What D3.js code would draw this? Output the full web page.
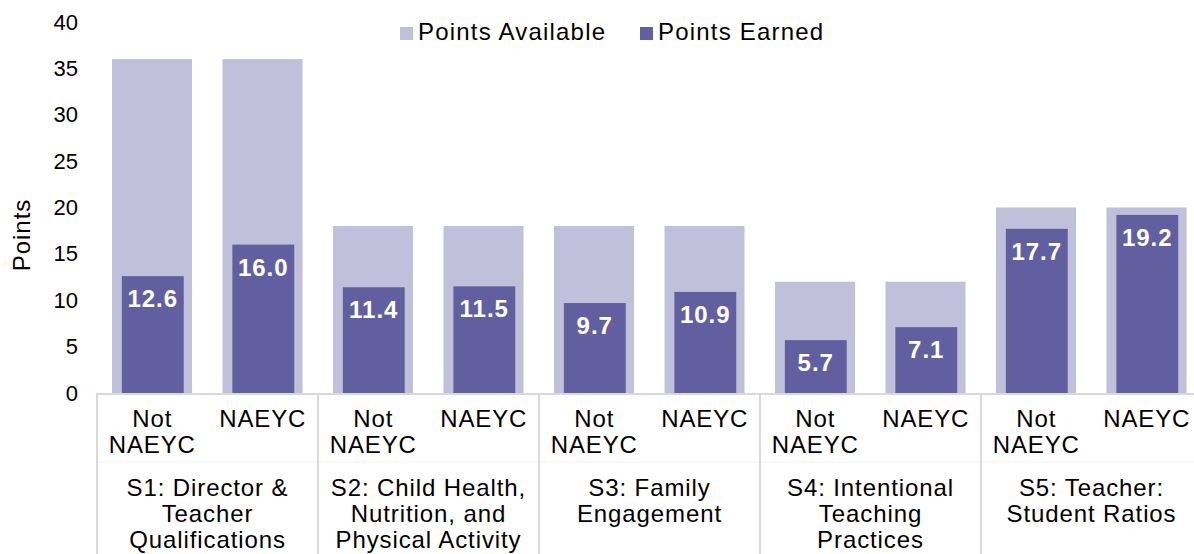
<!DOCTYPE html>
<html lang="en">
<head>
<meta charset="UTF-8">
<title>Points by standard</title>
<script src="https://cdn.jsdelivr.net/npm/d3@7"></script>
<style>
  * { margin: 0; padding: 0; box-sizing: border-box; }
  body { background: #fff; }
  svg { display: block; font-family: "Liberation Sans", Arial, sans-serif; }
</style>
</head>
<body>
<svg width="1194" height="554"></svg>
<script>
// data
var groups = [
  ["S1: Director &", "Teacher", "Qualifications"],
  ["S2: Child Health,", "Nutrition, and", "Physical Activity"],
  ["S3: Family", "Engagement"],
  ["S4: Intentional", "Teaching", "Practices"],
  ["S5: Teacher:", "Student Ratios"]
];
var subCats = [["Not", "NAEYC"], ["NAEYC"]];
var available = [36, 36, 18, 18, 18, 18, 12, 12, 20, 20];
var earned = [12.6, 16.0, 11.4, 11.5, 9.7, 10.9, 5.7, 7.1, 17.7, 19.2];
var yTicks = [0, 5, 10, 15, 20, 25, 30, 35, 40];

var colAvail = "#c1c0db", colEarned = "#625fa0";

var svg = d3.select("svg");
// plot area runs a little past the right edge of the picture
var mLeft = 97, mRight = 1202, mTop = 22, mBottom = 393;

var keys = d3.range(available.length);
var x = d3.scaleBand().domain(keys).range([mLeft, mRight]).padding(0);
var y = d3.scaleLinear().domain([0, 40]).range([mBottom, mTop]);

// bars
var bw = x.bandwidth();
svg.append("g").selectAll("rect")
  .data(available).enter().append("rect")
  .attr("x", function (d, i) { return x(i) + bw * 0.136; })
  .attr("width", bw * 0.724)
  .attr("y", function (d) { return y(d); })
  .attr("height", function (d) { return y(0) - y(d); })
  .attr("fill", colAvail);

svg.append("g").selectAll("rect")
  .data(earned).enter().append("rect")
  .attr("x", function (d, i) { return x(i) + bw * 0.225; })
  .attr("width", bw * 0.56)
  .attr("y", function (d) { return y(d); })
  .attr("height", function (d) { return y(0) - y(d); })
  .attr("fill", colEarned);

svg.append("g").selectAll("text")
  .data(earned).enter().append("text")
  .attr("x", function (d, i) { return x(i) + bw / 2 + 0.5; })
  .attr("y", function (d) { return y(d) + 31; })
  .attr("text-anchor", "middle")
  .attr("fill", "#fff")
  .attr("font-weight", "bold")
  .attr("font-size", 24)
  .attr("letter-spacing", 1)
  .text(function (d) { return d.toFixed(1); });

// y axis (labels only)
var yAxis = d3.axisLeft(y).tickValues(yTicks).tickSize(0).tickPadding(0);
var yg = svg.append("g").attr("transform", "translate(78,0)").call(yAxis);
yg.select(".domain").remove();
yg.selectAll("text").attr("font-size", 22).attr("fill", "#000")
  .attr("font-family", "Liberation Sans, Arial, sans-serif");

svg.append("text")
  .attr("transform", "translate(30,235) rotate(-90)")
  .attr("text-anchor", "middle")
  .attr("font-size", 24)
  .attr("letter-spacing", 1)
  .text("Points");

// x axis: baseline and group separators
svg.append("line")
  .attr("x1", mLeft).attr("x2", 1194)
  .attr("y1", mBottom + 1).attr("y2", mBottom + 1)
  .attr("stroke", "#d9d9d9").attr("stroke-width", 2);

svg.append("line")
  .attr("x1", mLeft).attr("x2", 1194)
  .attr("y1", 462).attr("y2", 462)
  .attr("stroke", "#f4f4f4").attr("stroke-width", 1);

groups.forEach(function (g, gi) {
  var gx = x(gi * 2);
  svg.append("line")
    .attr("x1", gx).attr("x2", gx)
    .attr("y1", mBottom).attr("y2", 554)
    .attr("stroke", "#d9d9d9").attr("stroke-width", 2);

  var cx = gx + bw;
  var t = svg.append("text")
    .attr("text-anchor", "middle")
    .attr("font-size", 24)
    .attr("letter-spacing", 0.9);
  g.forEach(function (line, li) {
    t.append("tspan").attr("x", cx).attr("y", 496 + li * 26).text(line);
  });
});

keys.forEach(function (k) {
  var lines = subCats[k % 2];
  var t = svg.append("text")
    .attr("text-anchor", "middle")
    .attr("font-size", 24)
    .attr("letter-spacing", 0.9);
  lines.forEach(function (line, li) {
    t.append("tspan").attr("x", x(k) + bw / 2).attr("y", 427 + li * 26).text(line);
  });
});

// legend
var legend = [["Points Available", colAvail, 400], ["Points Earned", colEarned, 640]];
legend.forEach(function (l) {
  svg.append("rect").attr("x", l[2]).attr("y", 27).attr("width", 13).attr("height", 13).attr("fill", l[1]);
  svg.append("text").attr("x", l[2] + 18).attr("y", 40).attr("font-size", 24)
    .attr("letter-spacing", 1.2).text(l[0]);
});
</script>
</body>
</html>
